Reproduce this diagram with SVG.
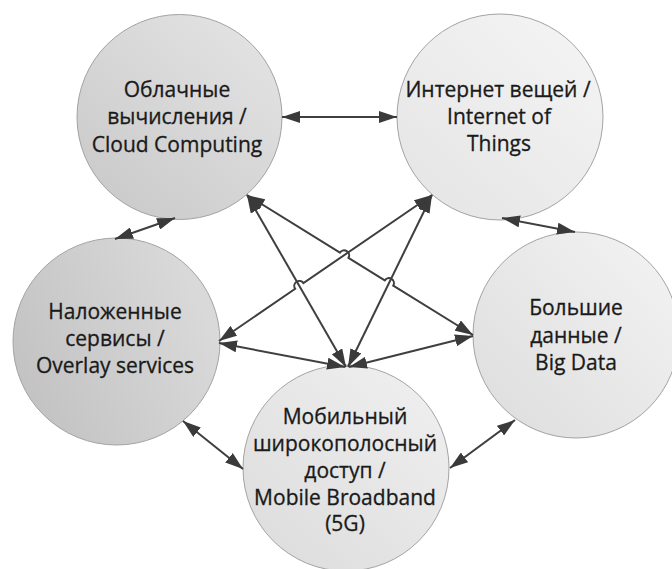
<svg xmlns="http://www.w3.org/2000/svg" width="672" height="569" viewBox="0 0 672 569">
  <defs>
    <style>
      .node circle { stroke: #a3a3a3; stroke-width: 1; }
      .node text { font-family: "Open Sans", "Noto Sans", "DejaVu Sans", sans-serif; font-size: 21px; fill: #1a1a1a; stroke: #1a1a1a; stroke-width: 0.3; text-anchor: middle; }
      .link { fill: none; stroke: #3f3f3f; stroke-width: 2; marker-start: url(#arrow); marker-end: url(#arrow); }
    </style>
    <marker id="arrow" viewBox="0 0 18 12" refX="18" refY="6" markerWidth="18" markerHeight="12" markerUnits="userSpaceOnUse" orient="auto-start-reverse">
      <path d="M0,0 L18,6 L0,12 Z" fill="#3a3a3a"/>
    </marker>
    <linearGradient id="gCloud" x1="0.85" y1="0.1" x2="0.15" y2="0.9">
      <stop offset="0" stop-color="#e2e2e2"/>
      <stop offset="1" stop-color="#cbcbcb"/>
    </linearGradient>
    <linearGradient id="gIot" x1="0.85" y1="0.1" x2="0.15" y2="0.9">
      <stop offset="0" stop-color="#f3f3f3"/>
      <stop offset="1" stop-color="#e6e6e6"/>
    </linearGradient>
    <linearGradient id="gOverlay" x1="0.9" y1="0.3" x2="0" y2="0.7">
      <stop offset="0" stop-color="#d9d9d9"/>
      <stop offset="1" stop-color="#c2c2c2"/>
    </linearGradient>
    <linearGradient id="gBig" x1="0.85" y1="0.1" x2="0.1" y2="0.8">
      <stop offset="0" stop-color="#f1f1f1"/>
      <stop offset="1" stop-color="#e0e0e0"/>
    </linearGradient>
    <linearGradient id="gMobile" x1="0.85" y1="0.1" x2="0.15" y2="0.9">
      <stop offset="0" stop-color="#eeeeee"/>
      <stop offset="1" stop-color="#dedede"/>
    </linearGradient>
  </defs>

  <rect width="672" height="569" fill="#ffffff"/>

  <!-- nodes -->
  <g id="cloud" class="node">
    <circle cx="179.5" cy="117" r="102.5" fill="url(#gCloud)"/>
    <text x="177" y="97">Облачные</text>
    <text x="177" y="124">вычисления /</text>
    <text x="177" y="152">Cloud Computing</text>
  </g>
  <g id="iot" class="node">
    <circle cx="500" cy="117" r="103" fill="url(#gIot)"/>
    <text x="498" y="97">Интернет вещей /</text>
    <text x="499" y="124">Internet of</text>
    <text x="499" y="151">Things</text>
  </g>
  <g id="overlay" class="node">
    <circle cx="116.5" cy="341.5" r="103.5" fill="url(#gOverlay)"/>
    <text x="115" y="319">Наложенные</text>
    <text x="115" y="346">сервисы /</text>
    <text x="115" y="373">Overlay services</text>
  </g>
  <g id="bigdata" class="node">
    <circle cx="576" cy="335" r="103" fill="url(#gBig)"/>
    <text x="576" y="315">Большие</text>
    <text x="576" y="343">данные /</text>
    <text x="576" y="370">Big Data</text>
  </g>
  <g id="mobile" class="node">
    <circle cx="346" cy="468" r="103" fill="url(#gMobile)"/>
    <text x="345" y="424">Мобильный</text>
    <text x="345" y="451">широкополосный</text>
    <text x="345" y="478">доступ /</text>
    <text x="345" y="505">Mobile Broadband</text>
    <text x="345" y="531">(5G)</text>
  </g>

  <!-- connectors (two-headed) -->
  <g id="connectors">
    <path class="link" d="M282,117 L397,117"/>
    <path class="link" d="M115,239 L175,218"/>
    <path class="link" d="M502,218 L575,232"/>
    <path class="link" d="M183,421 L243,469"/>
    <path class="link" d="M450,468 L515,420"/>
    <path class="link" d="M247,195 L346,367"/>
    <path class="link" d="M247,195 L339.95,252.57 A5,5 0 0 1 348.45,257.83 L384.75,280.37 A5,5 0 0 1 393.25,285.63 L473,335"/>
    <path class="link" d="M219,341 L295.18,288.73 A5,5 0 0 1 303.43,283.07 L432,195"/>
    <path class="link" d="M432,195 L348,367"/>
    <path class="link" d="M219,343 L345,367"/>
    <path class="link" d="M473,336 L349,367"/>
  </g>
</svg>
